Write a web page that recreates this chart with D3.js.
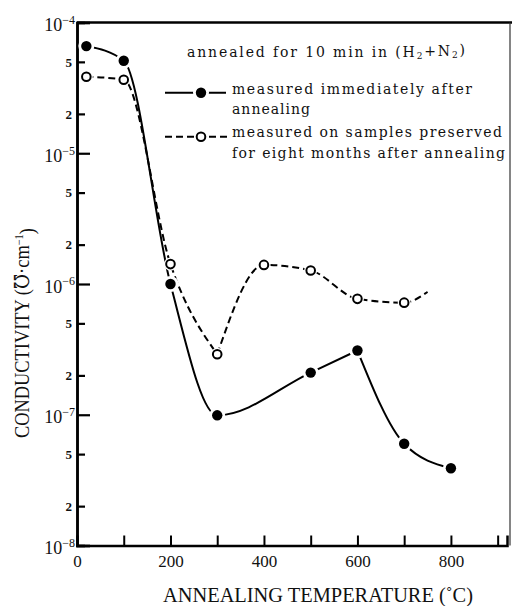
<!DOCTYPE html>
<meta charset="utf-8">
<html>
<head>
<style>
  body { margin: 0; background: #fff; }
  text { font-family: "Liberation Serif", "DejaVu Serif", serif; fill: #111; }
  .legend text { font-family: "DejaVu Serif", "Liberation Serif", serif; }
</style>
<script src="https://cdn.jsdelivr.net/npm/d3@7"></script>
</head>
<body>
<div id="chart"></div>
<script>

// measured immediately after annealing (filled dots)
var tempsNow = [20, 100, 200, 300, 500, 600, 700, 800];
var valuesNow = [6.6e-5, 5.1e-5, 1.0e-6, 9.9e-8, 2.1e-7, 3.1e-7, 6.0e-8, 3.9e-8];
// measured after eight months (open dots); last point is the end of the dashed tail, no marker
var tempsLater = [20, 100, 200, 300, 400, 500, 600, 700, 750];
var valuesLater = [3.85e-5, 3.65e-5, 1.42e-6, 2.9e-7, 1.4e-6, 1.27e-6, 7.7e-7, 7.2e-7, 8.7e-7];

// axis ticks
var decades = [1e-8, 1e-7, 1e-6, 1e-5, 1e-4];
var decadeExp = ["\u22128", "\u22127", "\u22126", "\u22125", "\u22124"];
var minorTicks = [2e-8, 5e-8, 2e-7, 5e-7, 2e-6, 5e-6, 2e-5, 5e-5];
var minorLabels = ["2", "5", "2", "5", "2", "5", "2", "5"];
var xTicks = [100, 200, 300, 400, 500, 600, 700, 800, 900];
var xLabels = [0, 200, 400, 600, 800];

var legendLines = ["measured immediately after", "annealing",
                   "measured on samples preserved", "for eight months after annealing"];

var margin = {top: 22.5, left: 77},
    width = 430,
    height = 523;

var svg = d3.select("#chart")
  .append("svg")
  .attr("width", 512)
  .attr("height", 606)
  .append("g")
  .attr("transform", "translate(" + margin.left + "," + margin.top + ")");

var x = d3.scaleLinear().domain([0, 920]).range([0, width]);
var y = d3.scaleLog().domain([1e-8, 1e-4]).range([height, 0]);

// frame
svg.append("line").attr("x1", 0).attr("x2", 435).attr("y1", 0).attr("y2", 0)
  .attr("stroke", "#000").attr("stroke-width", 2.5);
svg.append("line").attr("x1", 433).attr("x2", 433).attr("y1", 0).attr("y2", height)
  .attr("stroke", "#333").attr("stroke-width", 1.2);

// left axis: decades (long ticks) and 2,5 (short ticks), ticks point inwards
var yMajor = svg.append("g")
  .call(d3.axisLeft(y).tickValues(decades).tickSize(-13).tickPadding(2).tickFormat(""));
yMajor.selectAll(".tick text").each(function(d, i) {
  var t = d3.select(this).attr("dy", "0.45em").style("font-size", "18px");
  t.append("tspan").text("10");
  t.append("tspan").attr("dy", "-0.6em").style("font-size", "12px").text(decadeExp[i]);
});
var yMinor = svg.append("g")
  .call(d3.axisLeft(y).tickValues(minorTicks).tickSize(-8).tickPadding(5)
    .tickFormat(function(d, i) { return minorLabels[i]; }));
yMinor.selectAll("text").style("font-size", "13px").style("font-weight", "bold");
svg.selectAll(".domain").attr("stroke-width", 2.5);
svg.selectAll(".tick line").attr("stroke-width", 2.2);

// bottom axis
var xAxisTicks = svg.append("g")
  .attr("transform", "translate(0," + height + ")")
  .call(d3.axisBottom(x).tickValues(xTicks).tickSize(-10).tickFormat(""));
xAxisTicks.select(".domain").attr("stroke-width", 2.5);
xAxisTicks.selectAll(".tick line").attr("stroke-width", 2);
var xAxisLabels = svg.append("g")
  .attr("transform", "translate(0," + height + ")")
  .call(d3.axisBottom(x).tickValues(xLabels).tickSize(0).tickPadding(9));
xAxisLabels.select(".domain").remove();
xAxisLabels.selectAll("text").style("font-size", "17px");

// axis titles
svg.append("text")
  .attr("x", 163 - margin.left).attr("y", 602 - margin.top)
  .attr("textLength", 310).attr("lengthAdjust", "spacingAndGlyphs")
  .style("font-size", "20px")
  .text("ANNEALING TEMPERATURE (\u02DAC)");

var yTitle = svg.append("text")
  .attr("transform", "translate(" + (29 - margin.left) + "," + (438 - margin.top) + ") rotate(-90)")
  .attr("textLength", 210).attr("lengthAdjust", "spacingAndGlyphs")
  .style("font-size", "21px");
yTitle.append("tspan").text("CONDUCTIVITY (\u2127\u00B7cm");
yTitle.append("tspan").attr("dy", "-0.5em").style("font-size", "12px").text("\u22121");
yTitle.append("tspan").attr("dy", "0.5em").text(")");

// curves, split where the hand drawn lines have a corner
function pieces(xs, vs, breaks) {
  var pts = xs.map(function(t, i) { return [x(t), y(vs[i])]; });
  var out = [], start = 0;
  breaks.concat([pts.length - 1]).forEach(function(b) {
    out.push(pts.slice(start, b + 1));
    start = b;
  });
  return out;
}
var curve = d3.line().curve(d3.curveMonotoneX);

svg.selectAll(".now")
  .data(pieces(tempsNow, valuesNow, [5]))
  .enter().append("path")
  .attr("d", curve)
  .attr("fill", "none").attr("stroke", "#000").attr("stroke-width", 2);

svg.selectAll(".later")
  .data(pieces(tempsLater, valuesLater, [3]))
  .enter().append("path")
  .attr("d", curve)
  .attr("fill", "none").attr("stroke", "#000").attr("stroke-width", 2)
  .attr("stroke-dasharray", "7,4");

// markers with a white halo, like the gaps in the original drawing
tempsNow.forEach(function(t, i) {
  svg.append("circle").attr("cx", x(t)).attr("cy", y(valuesNow[i])).attr("r", 8).attr("fill", "#fff");
  svg.append("circle").attr("cx", x(t)).attr("cy", y(valuesNow[i])).attr("r", 5.2).attr("fill", "#000");
});
tempsLater.slice(0, -1).forEach(function(t, i) {
  svg.append("circle").attr("cx", x(t)).attr("cy", y(valuesLater[i])).attr("r", 6.5).attr("fill", "#fff");
  svg.append("circle").attr("cx", x(t)).attr("cy", y(valuesLater[i])).attr("r", 4.3)
    .attr("fill", "#fff").attr("stroke", "#000").attr("stroke-width", 2);
});

// legend
var lg = svg.append("g").attr("class", "legend")
  .attr("transform", "translate(" + (-margin.left) + "," + (-margin.top) + ")");
var title = lg.append("text").attr("x", 187).attr("y", 57).attr("textLength", 278).style("font-size", "14px");
title.append("tspan").text("annealed for 10 min in (H");
title.append("tspan").attr("dy", "0.25em").style("font-size", "9px").text("2");
title.append("tspan").attr("dy", "-0.25em").text("+N");
title.append("tspan").attr("dy", "0.25em").style("font-size", "9px").text("2");
title.append("tspan").attr("dy", "-0.25em").text(")");

lg.append("line").attr("x1", 165).attr("x2", 226).attr("y1", 92.7).attr("y2", 92.7)
  .attr("stroke", "#000").attr("stroke-width", 2);
lg.append("circle").attr("cx", 201).attr("cy", 92.7).attr("r", 8).attr("fill", "#fff");
lg.append("circle").attr("cx", 201).attr("cy", 92.7).attr("r", 5.2).attr("fill", "#000");
lg.append("line").attr("x1", 165).attr("x2", 229).attr("y1", 136.7).attr("y2", 136.7)
  .attr("stroke", "#000").attr("stroke-width", 2).attr("stroke-dasharray", "7,4");
lg.append("circle").attr("cx", 201).attr("cy", 136.7).attr("r", 6.5).attr("fill", "#fff");
lg.append("circle").attr("cx", 201).attr("cy", 136.7).attr("r", 4.3)
  .attr("fill", "#fff").attr("stroke", "#000").attr("stroke-width", 2);

var legendY = [94, 114, 137, 158], legendW = [240, 78, 270, 273];
lg.selectAll(".legendText")
  .data(legendLines)
  .enter().append("text")
  .attr("x", 232)
  .attr("y", function(d, i) { return legendY[i]; })
  .attr("textLength", function(d, i) { return legendW[i]; })
  .style("font-size", "14px")
  .text(function(d) { return d; });

</script>
</body>
</html>
